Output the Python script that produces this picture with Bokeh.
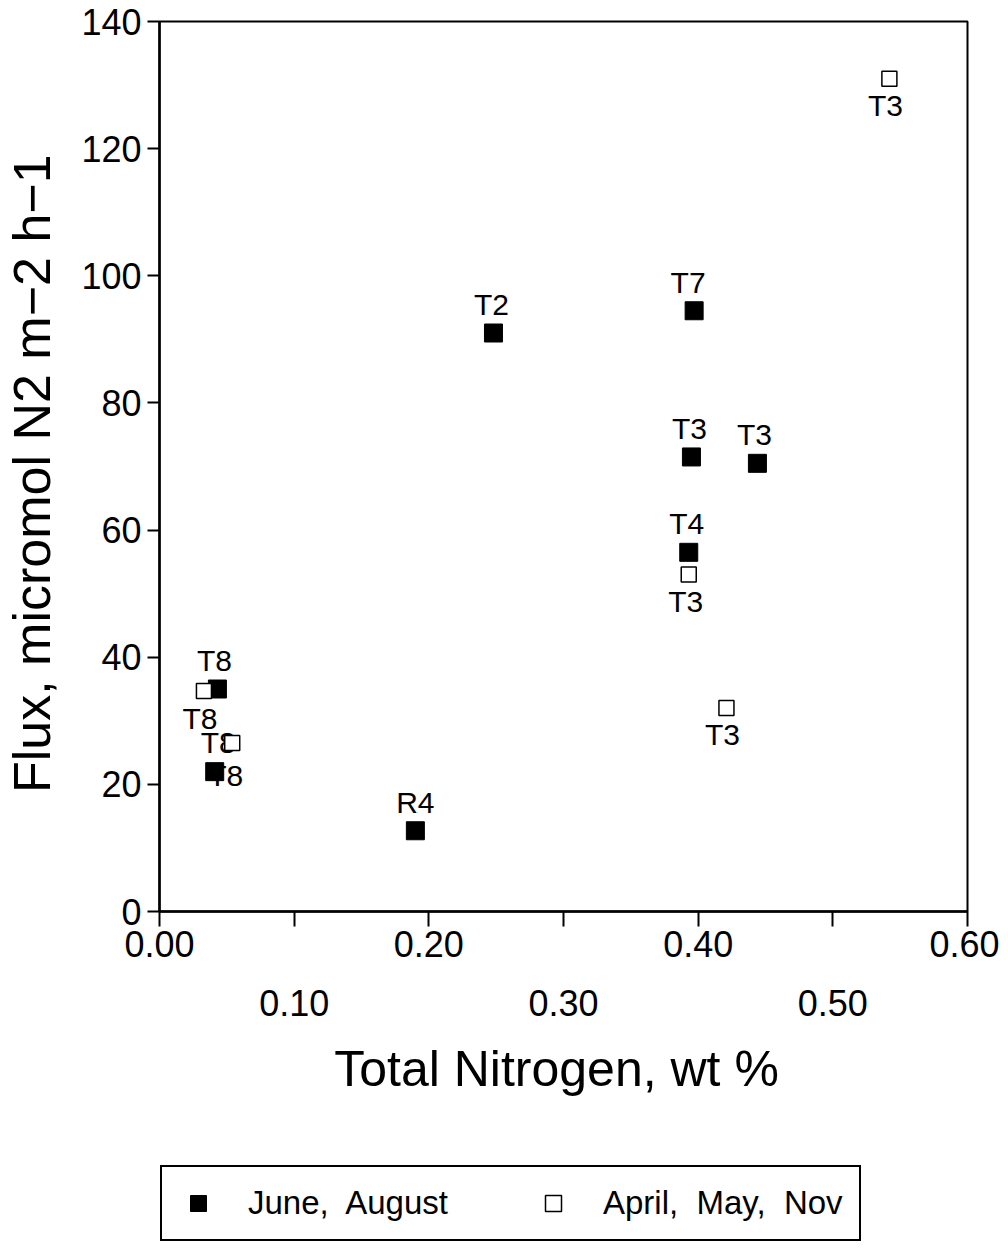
from bokeh.plotting import figure
from bokeh.layouts import column
from bokeh.models import (LinearAxis, FixedTicker, Range1d, Legend, LegendItem,
                          ColumnDataSource, PrintfTickFormatter)
from bokeh.core.properties import value
from bokeh.embed import file_html
from bokeh.resources import INLINE

FONT = "Liberation Sans"

# June, August (filled squares)
june_x = [0.043, 0.041, 0.190, 0.248, 0.397, 0.395, 0.444, 0.393]
june_y = [35.0, 22.0, 12.7, 91.0, 94.5, 71.5, 70.5, 56.5]
june_lab = ["T8", "T8", "R4", "T2", "T7", "T3", "T3", "T4"]

# April, May, Nov (open squares)
other_x = [0.542, 0.393, 0.421, 0.033, 0.054]
other_y = [131.0, 53.0, 32.0, 34.7, 26.5]
other_lab = ["T3", "T3", "T3", "T8", "T8"]

x_major = [0.0, 0.2, 0.4, 0.6]
x_minor = [0.1, 0.3, 0.5]
y_ticks = [0, 20, 40, 60, 80, 100, 120, 140]

# label offsets (screen px) – styling, not data
june_dx = [-3, 11, 0, -2, -6, -2, -3, -2]
june_dy = [-12, 4, -12, -12, -12, -12, -12, -12]
june_base = ["bottom", "middle", "bottom", "bottom", "bottom", "bottom", "bottom", "bottom"]
other_dx = [-4, -3, -4, -4, -14]
other_dy = [10, 10, 10, 11, -1]
other_base = ["top", "top", "top", "top", "middle"]

p = figure(frame_width=808, frame_height=890, output_backend="svg", toolbar_location=None,
           x_range=Range1d(0, 0.6), y_range=Range1d(0, 140),
           min_border_left=152, min_border_right=32, min_border_top=21, min_border_bottom=250,
           x_axis_location=None, y_axis_location=None)
p.background_fill_color = "white"
p.border_fill_color = "white"
p.outline_line_color = "black"
p.outline_line_alpha = 1.0
p.outline_line_width = 2
p.xgrid.visible = False
p.ygrid.visible = False

# axes
yax = LinearAxis(ticker=FixedTicker(ticks=y_ticks, minor_ticks=[]),
                 axis_label="Flux,  micromol N2 m\u22122 h\u22121")
yax.axis_line_width = 2.5
yax.major_tick_out = 12
yax.major_tick_in = 0
yax.major_tick_line_width = 2
yax.major_label_text_font = FONT
yax.major_label_text_font_size = "36px"
yax.major_label_text_color = "black"
yax.major_label_standoff = 6
yax.axis_label_text_font = FONT
yax.axis_label_text_font_size = "52px"
yax.axis_label_text_font_style = "normal"
yax.axis_label_text_color = "black"
yax.axis_label_standoff = 17
p.add_layout(yax, "left")

xax = LinearAxis(ticker=FixedTicker(ticks=x_major, minor_ticks=x_minor),
                 formatter=PrintfTickFormatter(format="%.2f"))
xax.axis_line_width = 2.5
xax.major_tick_out = 15
xax.major_tick_in = 0
xax.minor_tick_out = 15
xax.minor_tick_in = 0
xax.major_tick_line_width = 2
xax.minor_tick_line_width = 2
xax.minor_tick_line_color = "black"
xax.major_label_text_font = FONT
xax.major_label_text_font_size = "36px"
xax.major_label_text_color = "black"
xax.major_label_standoff = 4
p.add_layout(xax, "below")

xax2 = LinearAxis(ticker=FixedTicker(ticks=x_minor, minor_ticks=[]),
                  formatter=PrintfTickFormatter(format="%.2f"),
                  axis_label="Total Nitrogen,  wt %")
xax2.axis_line_color = None
xax2.major_tick_line_color = None
xax2.minor_tick_line_color = None
xax2.major_tick_out = 0
xax2.major_tick_in = 0
xax2.major_label_text_font = FONT
xax2.major_label_text_font_size = "36px"
xax2.major_label_text_color = "black"
xax2.major_label_standoff = 30
xax2.axis_label_text_font = FONT
xax2.axis_label_text_font_size = "50px"
xax2.axis_label_text_font_style = "normal"
xax2.axis_label_text_color = "black"
xax2.axis_label_standoff = 22
p.add_layout(xax2, "below")

src_j = ColumnDataSource(dict(x=june_x, y=june_y, lab=june_lab, dx=june_dx, dy=june_dy, base=june_base))
src_o = ColumnDataSource(dict(x=other_x, y=other_y, lab=other_lab, dx=other_dx, dy=other_dy, base=other_base))

p.text(x="x", y="y", text="lab", source=src_j, x_offset="dx", y_offset="dy",
       text_baseline="base", text_align="center", text_font=value(FONT),
       text_font_size="30px", text_color="black")
p.text(x="x", y="y", text="lab", source=src_o, x_offset="dx", y_offset="dy",
       text_baseline="base", text_align="center", text_font=value(FONT),
       text_font_size="30px", text_color="black")

p.scatter(x="x", y="y", source=src_j, marker="square", size=18,
          fill_color="black", line_color="black", line_width=1)
p.scatter(x="x", y="y", source=src_o, marker="square", size=15,
          fill_color="white", line_color="black", line_width=1.5)

# legend strip below the chart (its ranges keep the data marks out of view)
lf = figure(width=992, height=84, output_backend="svg", toolbar_location=None,
            x_range=Range1d(10, 11), y_range=Range1d(10, 11),
            min_border=0, x_axis_location=None, y_axis_location=None)
lf.outline_line_color = None
lf.xgrid.visible = False
lf.ygrid.visible = False
lj = lf.scatter(x="x", y="y", source=src_j, marker="square", size=18,
                fill_color="black", line_color="black", line_width=1)
lo = lf.scatter(x="x", y="y", source=src_o, marker="square", size=15,
                fill_color="white", line_color="black", line_width=1.5)

legend = Legend(items=[LegendItem(label="June,  August", renderers=[lj]),
                       LegendItem(label="April,  May,  Nov", renderers=[lo])],
                orientation="horizontal", location=(1, 4))
legend.label_text_font = FONT
legend.label_text_font_size = "33px"
legend.label_text_color = "black"
legend.border_line_color = "black"
legend.border_line_alpha = 1.0
legend.border_line_width = 2
legend.glyph_width = 40
legend.glyph_height = 40
legend.label_standoff = 30
legend.spacing = 85
legend.padding = 16
legend.margin = 0
legend.background_fill_color = "white"
legend.background_fill_alpha = 1.0
lf.add_layout(legend, "center")

layout = column(p, lf, spacing=0)
open("out.html", "w").write(file_html(layout, INLINE))
